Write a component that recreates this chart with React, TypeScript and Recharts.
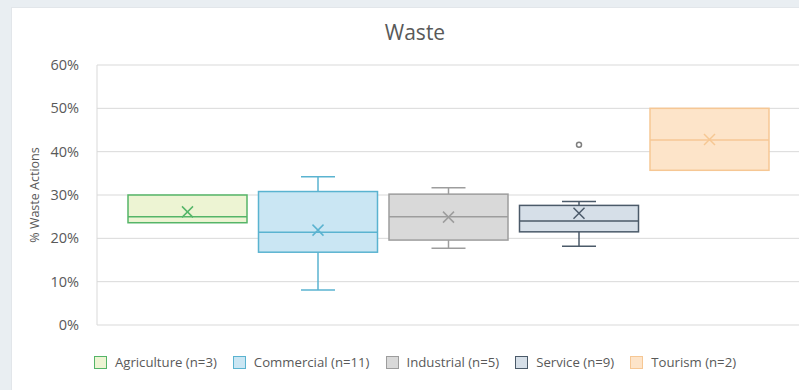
import React from "react";
import { Bar, BarChart, CartesianGrid, XAxis, YAxis } from "recharts";

// one entry per sector, values in %
const sectors = ["Agriculture", "Commercial", "Industrial", "Service", "Tourism"];
const counts = [3, 11, 5, 9, 2];
const whiskerLow = [23.6, 8.1, 17.7, 18.2, 35.7];
const q1 = [23.6, 16.8, 19.6, 21.5, 35.7];
const median = [25.0, 21.4, 25.0, 24.0, 42.7];
const q3 = [30.0, 30.8, 30.2, 27.6, 50.0];
const whiskerHigh = [30.0, 34.2, 31.7, 28.5, 50.0];
const mean = [26.1, 21.9, 24.9, 25.8, 42.8];
const outliers: number[][] = [[], [], [], [41.6], []];
const yTicks = [0, 10, 20, 30, 40, 50, 60];

const strokes = ["#55b568", "#5ab3d0", "#9d9d9d", "#4b5a69", "#f6c794"];
const fills = ["#edf4d3", "#cae6f3", "#d9d9d9", "#d6dfe8", "#fde4c9"];

const FONT = "'Open Sans', sans-serif";
const TEXT = "#595959";

const lo = (i: number) => Math.min(whiskerLow[i], ...outliers[i]);
const hi = (i: number) => Math.max(whiskerHigh[i], ...outliers[i]);

const row: Record<string, any> = { name: "Waste" };
sectors.forEach((s, i) => {
  row[s] = [lo(i), hi(i)];
});
const data = [row];

function BoxShape(i: number) {
  return (props: any) => {
    const { x, y, width, height } = props;
    const a = lo(i);
    const b = hi(i);
    const py = (v: number) => y + (height * (b - v)) / (b - a);
    const cx = x + width / 2;
    const stroke = strokes[i];
    const cap = 17;
    const m = py(mean[i]);
    return (
      <g>
        {whiskerHigh[i] > q3[i] && (
          <g stroke={stroke} strokeWidth={1.5}>
            <line x1={cx} x2={cx} y1={py(q3[i])} y2={py(whiskerHigh[i])} />
            <line x1={cx - cap} x2={cx + cap} y1={py(whiskerHigh[i])} y2={py(whiskerHigh[i])} />
          </g>
        )}
        {whiskerLow[i] < q1[i] && (
          <g stroke={stroke} strokeWidth={1.5}>
            <line x1={cx} x2={cx} y1={py(q1[i])} y2={py(whiskerLow[i])} />
            <line x1={cx - cap} x2={cx + cap} y1={py(whiskerLow[i])} y2={py(whiskerLow[i])} />
          </g>
        )}
        <rect
          x={x}
          y={py(q3[i])}
          width={width}
          height={py(q1[i]) - py(q3[i])}
          fill={fills[i]}
          stroke={stroke}
          strokeWidth={1.5}
        />
        <line x1={x} x2={x + width} y1={py(median[i])} y2={py(median[i])} stroke={stroke} strokeWidth={1.5} />
        <g stroke={stroke} strokeWidth={1.5}>
          <line x1={cx - 5.5} x2={cx + 5.5} y1={m - 5.5} y2={m + 5.5} />
          <line x1={cx - 5.5} x2={cx + 5.5} y1={m + 5.5} y2={m - 5.5} />
        </g>
        {outliers[i].map((v, k) => (
          <circle key={k} cx={cx} cy={py(v)} r={2.5} fill="#fff" stroke="#7f7f7f" strokeWidth={1.5} />
        ))}
      </g>
    );
  };
}

export default function App() {
  return (
    <div style={{ position: "fixed", inset: 0, background: "#e9eef2", fontFamily: FONT, overflow: "hidden" }}>
      <div
        style={{ position: "absolute", left: 11, top: 7, width: 820, height: 400, background: "#fff", border: "1px solid #e2e6ea" }}
      />
      <div
        style={{ position: "absolute", left: 11, top: 18, width: 808, textAlign: "center", fontSize: 21, color: TEXT }}
      >
        Waste
      </div>
      <div style={{ position: "absolute", left: 0, top: 0 }}>
        <BarChart
          width={799}
          height={390}
          data={data}
          margin={{ top: 65, right: 0, bottom: 65, left: 57 }}
          barCategoryGap={31}
          barGap={11.5}
        >
          <CartesianGrid vertical={false} stroke="#d9d9d9" />
          <XAxis dataKey="name" hide />
          <YAxis
            width={40}
            domain={[0, 60]}
            ticks={yTicks}
            tickFormatter={(v) => `${v}%`}
            tickLine={false}
            axisLine={{ stroke: "#d9d9d9" }}
            tickMargin={12}
            tick={{ fill: TEXT, fontSize: 14.5, fontFamily: FONT }}
            label={{
              content: (p: any) => {
                const vb = p.viewBox;
                const ly = vb.y + vb.height / 2;
                return (
                  <text
                    x={34}
                    y={ly}
                    transform={`rotate(-90 34 ${ly})`}
                    textAnchor="middle"
                    dominantBaseline="central"
                    fill={TEXT}
                    fontSize={12.5}
                    fontFamily={FONT}
                  >
                    % Waste Actions
                  </text>
                );
              },
            }}
          />
          {sectors.map((s, i) => (
            <Bar key={s} dataKey={s} shape={BoxShape(i)} isAnimationActive={false} />
          ))}
        </BarChart>
      </div>
      <div
        style={{
          position: "absolute",
          left: 11,
          top: 353,
          width: 808,
          display: "flex",
          justifyContent: "center",
          gap: 16,
          fontSize: 13.2,
          color: TEXT,
        }}
      >
        {sectors.map((s, i) => (
          <div key={s} style={{ display: "flex", alignItems: "center", gap: 8 }}>
            <span
              style={{ display: "inline-block", width: 11, height: 11, background: fills[i], border: `1.5px solid ${strokes[i]}` }}
            />
            <span>{`${s} (n=${counts[i]})`}</span>
          </div>
        ))}
      </div>
    </div>
  );
}
